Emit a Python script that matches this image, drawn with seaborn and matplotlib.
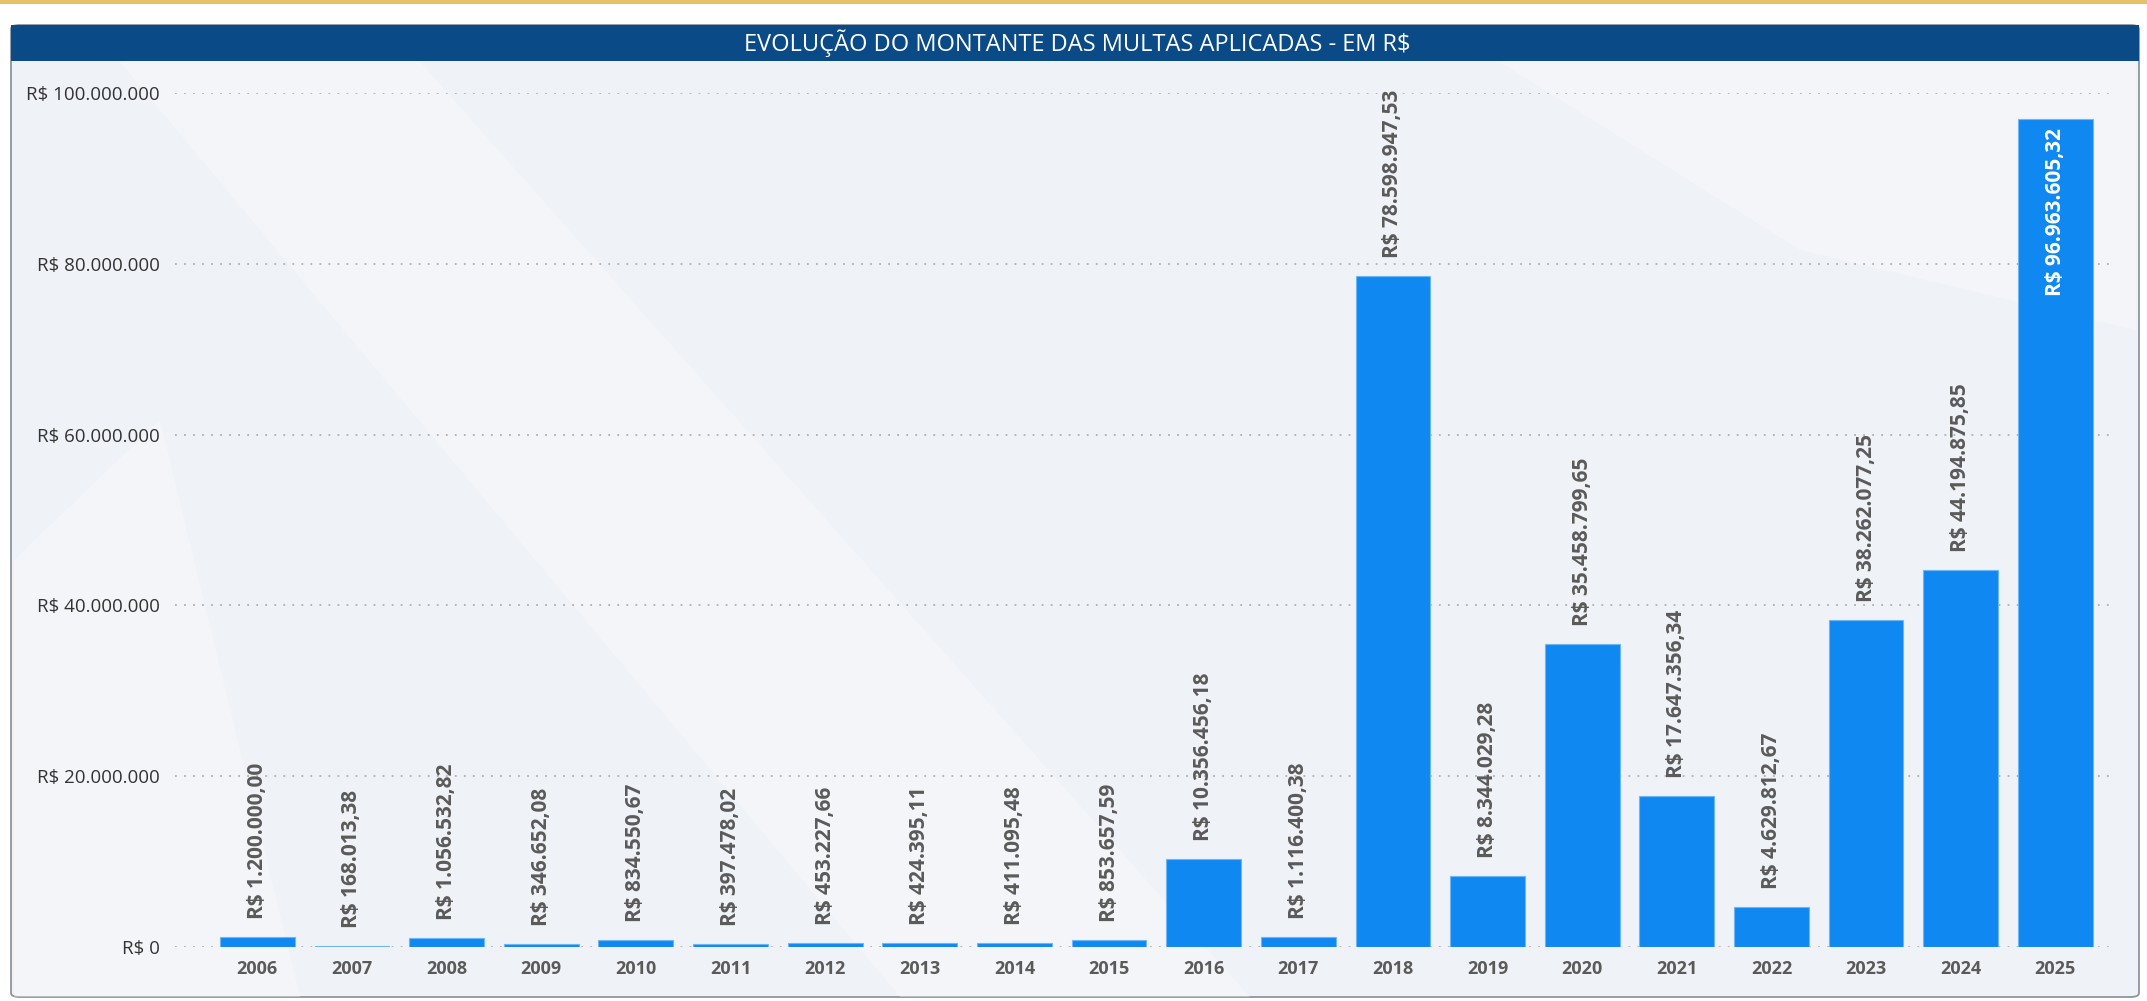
# %%
# Evolução do montante das multas aplicadas - em R$
import pandas as pd
import matplotlib.pyplot as plt
import matplotlib.ticker as mticker
from matplotlib.patches import FancyBboxPatch, Rectangle, Polygon
import seaborn as sns

# dados
anos = ['2006', '2007', '2008', '2009', '2010', '2011', '2012', '2013', '2014', '2015',
        '2016', '2017', '2018', '2019', '2020', '2021', '2022', '2023', '2024', '2025']
valores = [1200000.00, 168013.38, 1056532.82, 346652.08, 834550.67, 397478.02, 453227.66,
           424395.11, 411095.48, 853657.59, 10356456.18, 1116400.38, 78598947.53, 8344029.28,
           35458799.65, 17647356.34, 4629812.67, 38262077.25, 44194875.85, 96963605.32]
y_ticks = [0, 20000000, 40000000, 60000000, 80000000, 100000000]
titulo = 'EVOLUÇÃO DO MONTANTE DAS MULTAS APLICADAS - EM R$'

df = pd.DataFrame({'ano': anos, 'valor': valores})


def brl(v, casas=2):
    # formato brasileiro: ponto no milhar, vírgula no decimal
    s = f'{v:,.{casas}f}'
    return 'R$ ' + s.replace(',', 'X').replace('.', ',').replace('X', '.')


# %%
sns.set_style('white')
plt.rcParams['font.family'] = ['Open Sans', 'DejaVu Sans']

W, H = 2147, 1001
fig = plt.figure(figsize=(W / 100, H / 100), dpi=100)
fig.patch.set_facecolor('white')


def fx(px):
    return px / W


def fy(py):
    return 1 - py / H


# moldura, faixa dourada e barra de título (atrás dos eixos)
fig.patches.append(Rectangle((0, fy(4)), 1, 4 / H, transform=fig.transFigure,
                             facecolor='#E4C066', edgecolor='none', zorder=-5))
fig.patches.append(FancyBboxPatch((fx(11), fy(997)), fx(2139) - fx(11), (997 - 25) / H,
                                  boxstyle='round,pad=0,rounding_size=0.004',
                                  transform=fig.transFigure, facecolor='#EFF2F6',
                                  edgecolor='#8E959E', lw=1.3, zorder=-5))
# faixas claras do fundo
for pts in [[(14, 997), (300, 997), (160, 420), (14, 560)],
            [(120, 62), (420, 62), (1250, 997), (900, 997)],
            [(1500, 62), (2136, 62), (2136, 330), (1800, 250)]]:
    fig.patches.append(Polygon([(fx(a), fy(b)) for a, b in pts], closed=True,
                               transform=fig.transFigure, facecolor='white',
                               edgecolor='none', alpha=0.3, zorder=-4))
fig.patches.append(Rectangle((fx(11), fy(61)), fx(2139) - fx(11), (61 - 25) / H,
                             transform=fig.transFigure, facecolor='#0A4A86',
                             edgecolor='none', zorder=-3))
fig.text(fx(1077), fy(43), titulo, color='white', fontsize=17,
         ha='center', va='center')

# %%
ax = fig.add_axes([fx(175), fy(947), fx(2115) - fx(175), (947 - 93) / H])
ax.set_facecolor('none')
ax.set_zorder(2)

sns.barplot(data=df, x='ano', y='valor', color='#0F88F2', saturation=1, width=0.79,
            edgecolor='#6FB6F7', linewidth=0.8, ax=ax, zorder=3)

ax.set_xlim(-0.87, len(anos) - 0.37)
ax.set_ylim(0, 100000000)
ax.set_yticks(y_ticks)
ax.yaxis.set_major_formatter(mticker.FuncFormatter(lambda v, p: brl(v, 0)))
ax.set(xlabel='', ylabel='')
ax.set_axisbelow(True)
ax.yaxis.grid(True, linestyle=(0, (1, 4)), color='#B0B0B0', lw=1.3)
ax.xaxis.grid(False)
sns.despine(ax=ax, left=True, bottom=True)
ax.tick_params(axis='y', length=0, pad=11, labelsize=13.5, labelcolor='#333333')
ax.tick_params(axis='x', length=0, pad=9, labelsize=13, labelcolor='#5A5A5A')
for lbl in ax.get_xticklabels():
    lbl.set_fontweight('bold')

# rótulos de valor
for i, v in enumerate(valores):
    if v > 90000000:
        ax.annotate(brl(v), (i, v), xytext=(0, -9), textcoords='offset pixels',
                    rotation=90, ha='center', va='top', color='white',
                    fontsize=15, fontweight='bold', zorder=5)
    else:
        ax.annotate(brl(v), (i, v), xytext=(0, 18), textcoords='offset pixels',
                    rotation=90, ha='center', va='bottom', color='#5A5A5A',
                    fontsize=15, fontweight='bold', zorder=5, annotation_clip=False)

fig.savefig('out.png', dpi=100)
